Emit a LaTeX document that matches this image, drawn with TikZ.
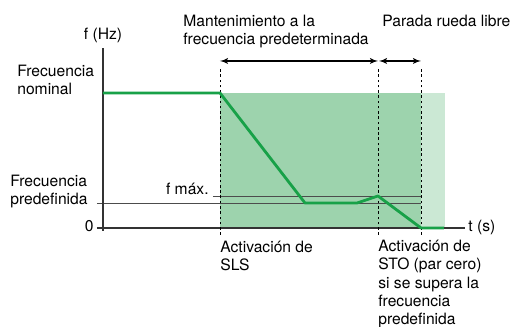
\documentclass[tikz,border=0pt]{standalone}
\usepackage{fontspec}
\setmainfont{TeX Gyre Heros}
\usepackage{tikz}
\usetikzlibrary{arrows,positioning}

\definecolor{curvegreen}{RGB}{24,161,72}
\definecolor{zonegreen}{RGB}{157,211,173}
\definecolor{freegreen}{RGB}{203,232,212}

\tikzset{
  lbl/.style={inner sep=0pt,font=\fontsize{8.9}{10.5}\selectfont,align=left},
  axis/.style={draw=black!80,line width=0.6pt},
  mark line/.style={draw=black!70,line width=0.5pt},
  limit/.style={draw=black,dashed,dash pattern=on 1.5pt off 1.5pt,line width=0.5pt},
  span/.style={<->,>=latex',draw=black,line width=0.6pt},
  curve/.style={draw=curvegreen,line width=1.6pt,line join=round}
}

\begin{document}
\begin{tikzpicture}[x=0.02cm,y=0.02cm]
        \useasboundingbox (0,0) rectangle (512,327);
        % zones
        \fill[zonegreen] (220,99) rectangle (421,234);
        \fill[freegreen] (421,99) rectangle (445,234);
        % key points
        \coordinate (ytop) at (103,279);
        \coordinate (ybot) at (103,96);
        \coordinate (x0) at (97,99);
        \coordinate (xend) at (465,99);
        \coordinate (slstop) at (220,260);
        \coordinate (stotop) at (378,260);
        \coordinate (stoptop) at (421,260);
        \coordinate (slsbot) at (220,92);
        \coordinate (stobot) at (378,92);
        \coordinate (stopbot) at (421,92);
        % reference levels
        \coordinate (pre0) at (97,124);
        \coordinate (pre1) at (421,124);
        \coordinate (max0) at (213,131);
        \coordinate (max1) at (421,131);
        \draw[mark line] (pre0) -- (pre1);
        \draw[mark line] (max0) -- (max1);
        % axes
        \draw[axis] (ybot) -- (ytop);
        \draw[axis] (x0) -- (xend);
        % limits
        \draw[limit] (slsbot) -- (slstop);
        \draw[limit] (stobot) -- (stotop);
        \draw[limit] (stopbot) -- (stoptop);
        \coordinate (a0) at (220,266);
        \coordinate (a1) at (378,266);
        \coordinate (b0) at (379,266);
        \coordinate (b1) at (421,266);
        \draw[span] (a0) -- (a1);
        \draw[span] (b0) -- (b1);
        % frequency
        \draw[curve] (103,234) -- (220,234) -- (305,124) -- (357,124)
                -- (378,131) -- (421,99) -- (444,99);
        % labels
        \node[lbl,anchor=base] (fhz) at (103,287) {f (Hz)};
        \node[lbl,anchor=base west] (hold) at (183,282) {Mantenimiento a la\\frecuencia predeterminada};
        \node[lbl,anchor=base west] (free) at (382,300) {Parada rueda libre};
        \node[lbl,anchor=base west] (nom) at (17,232) {Frecuencia\\nominal};
        \node[lbl,anchor=base west] (pre) at (10,122) {Frecuencia\\predefinida};
        \node[lbl,anchor=base east] (zero) at (94,95) {0};
        \node[lbl,anchor=base east] (fmax) at (209,132) {f máx.};
        \node[lbl,anchor=base west] (ts) at (468,95) {t (s)};
        \node[lbl,anchor=base west] (slslbl) at (220,56) {Activación de\\SLS};
        \node[lbl,anchor=base west] (stolbl) at (378,2) {Activación de\\STO (par cero)\\si se supera la\\frecuencia\\predefinida};
    \end{tikzpicture}
\end{document}
